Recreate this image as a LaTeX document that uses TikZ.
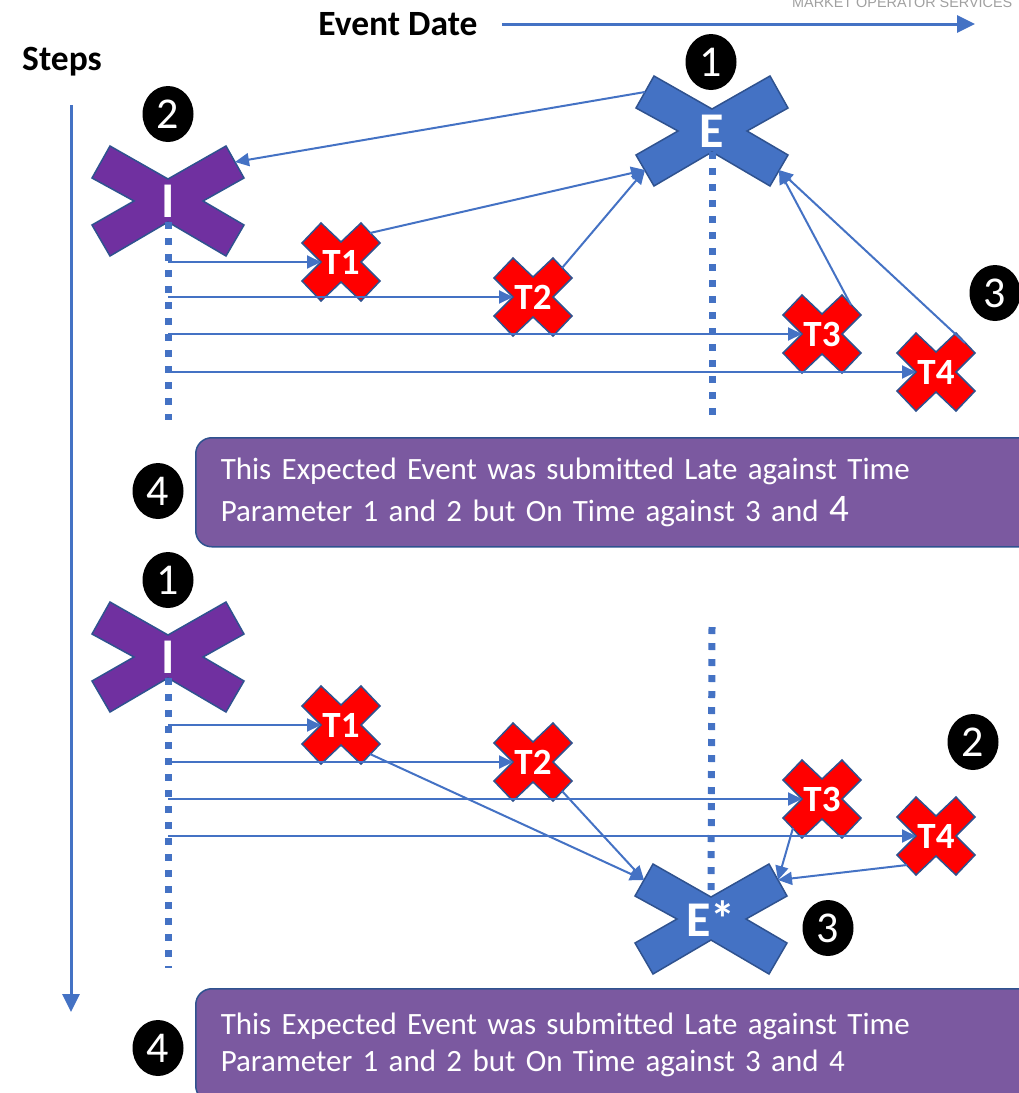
\documentclass[tikz,border=0pt]{standalone}
\usepackage{fontspec}
\setmainfont{Carlito}
\newfontfamily\mosfont{Liberation Sans}
\usetikzlibrary{positioning,shapes.geometric,arrows.meta}
\definecolor{eblue}{HTML}{4472C4}
\definecolor{xline}{HTML}{2F528F}
\definecolor{ipurple}{HTML}{7030A0}
\definecolor{boxpurple}{HTML}{7B59A0}
\definecolor{msgray}{HTML}{A0A0A0}

\tikzset{
  pics/bigx/.style n args={2}{code={
    \path[draw=xline, line width=1.5, fill=#2] (-76,-23) -- (-58,-55) -- (0,-22) -- (58,-55) -- (76,-23) -- (35,0) -- (76,24) -- (58,55) -- (0,21) -- (-58,55) -- (-76,24) -- (-34,0) -- cycle;
    \node[xtext, font=\fontsize{50}{50}\selectfont\bfseries] (-c) at (0,0) {#1};
    \coordinate (-nw) at (-67,-39);
    \coordinate (-ne) at (67,-39);
    \coordinate (-sw) at (-67,39);
    \coordinate (-se) at (67,39);
    \coordinate (-n) at (0,-22);
    \coordinate (-s) at (0,21);
  }},
  pics/smallx/.style={code={
    \path[draw=xline, line width=1.5, fill=red] (-39,-19) -- (-20,-39) -- (0,-20) -- (20,-39) -- (39,-19) -- (20,0) -- (39,19) -- (20,39) -- (0,20) -- (-20,39) -- (-39,19) -- (-20,0) -- cycle;
    \node[xtext, font=\fontsize{37}{37}\selectfont\bfseries] (-c) at (0,0) {#1};
    \coordinate (-w) at (-20,0);
    \coordinate (-ne) at (29,-29);
    \coordinate (-se) at (29,29);
    \coordinate (-sw) at (-29,29);
  }}
}

\begin{document}
\begin{tikzpicture}[x=1pt, y=-1pt,
  xtext/.style={text=white, inner sep=0pt},
  numc/.style={ellipse, fill=black, text=white, minimum width=51, minimum height=56, inner sep=0pt, font=\fontsize{44}{44}\selectfont},
  title/.style={font=\fontsize{35.5}{35.5}\selectfont\bfseries, inner sep=0pt},
  axis/.style={eblue, line width=3, -{Triangle[length=18,width=17]}},
  arr/.style={eblue, line width=2, -{Triangle[length=14,width=13]}},
  dots/.style={eblue, line width=7, dash pattern=on 7 off 9},
  msgbox/.style={draw=xline, line width=1.5, fill=boxpurple, rounded corners=16, text=white, align=left, text width=820, inner xsep=25, inner ysep=0pt, anchor=north west}]
\useasboundingbox (0,0) rectangle (1018,1093);

\node[anchor=base west, text=msgray, inner sep=0pt, font=\mosfont\fontsize{14.4}{14.4}\selectfont] (mos) at (792,7) {MARKET OPERATOR SERVICES};
\node[title] (evdate) at (398,24) {Event Date};
\coordinate (dateend) at (975,24);
\draw[axis] ([xshift=24]evdate.east) -- (dateend);
\node[title] (steps) at (62,62) {Steps};
\coordinate (stepstop) at (71,105);
\coordinate (stepsend) at (71,1012);
\draw[axis] (stepstop) -- (stepsend);

\pic (I1) at (168,201) {bigx={I}{ipurple}};
\pic (E1) at (712,131) {bigx={E}{eblue}};
\pic (T1) at (341,262) {smallx=T1};
\pic (T2) at (533,297) {smallx=T2};
\pic (T3) at (822,334) {smallx=T3};
\pic (T4) at (936,372) {smallx=T4};
\node[numc] (n1a) at (711,62) {1};
\node[numc] (n2a) at (168,114) {2};
\node[numc] (n3a) at (995,293) {3};
\coordinate (I1end) at (168,420);
\coordinate (E1end) at (712,420);
\draw[dots] (I1-s) -- (I1end);
\draw[dots] (E1-s) -- (E1end);
\draw[arr] (E1-nw) -- (I1-ne);
\draw[arr] (I1-s |- T1-w) -- (T1-w);
\draw[arr] (I1-s |- T2-w) -- (T2-w);
\draw[arr] (I1-s |- T3-w) -- (T3-w);
\draw[arr] (I1-s |- T4-w) -- (T4-w);
\draw[arr] (T1-ne) -- (E1-sw);
\draw[arr] (T2-ne) -- (E1-sw);
\draw[arr] (T3-ne) -- (E1-se);
\draw[arr] (T4-ne) -- (E1-se);
\node[msgbox, minimum height=109, font=\fontsize{31}{42}\selectfont] (box1) at (195,437) {This Expected Event was submitted Late against Time\\Parameter 1 and 2 but On Time against 3 and {\fontsize{39}{39}\selectfont 4}};
\node[numc] (n4a) at (158,491) {4};

\pic (I2) at (168,657) {bigx={I}{ipurple}};
\pic (E2) at (711,919) {bigx={E*}{eblue}};
\pic (U1) at (341,725) {smallx=T1};
\pic (U2) at (533,762) {smallx=T2};
\pic (U3) at (822,799) {smallx=T3};
\pic (U4) at (936,836) {smallx=T4};
\node[numc] (n1b) at (168,580) {1};
\node[numc] (n2b) at (973,742) {2};
\node[numc] (n3b) at (828,928) {3};
\coordinate (I2end) at (168,968);
\coordinate (E2top) at (712,627);
\draw[dots] (I2-s) -- (I2end);
\draw[dots] (E2top) -- (E2-n);
\draw[arr] (I2-s |- U1-w) -- (U1-w);
\draw[arr] (I2-s |- U2-w) -- (U2-w);
\draw[arr] (I2-s |- U3-w) -- (U3-w);
\draw[arr] (I2-s |- U4-w) -- (U4-w);
\draw[arr] (U1-se) -- (E2-nw);
\draw[arr] (U2-se) -- (E2-nw);
\draw[arr] (U3-sw) -- (E2-ne);
\draw[arr] (U4-sw) -- (E2-ne);
\node[msgbox, minimum height=113, font=\fontsize{31}{37}\selectfont] (box2) at (195,988) {This Expected Event was submitted Late against Time\\Parameter 1 and 2 but On Time against 3 and 4};
\node[numc] (n4b) at (158,1048) {4};
\end{tikzpicture}
\end{document}
